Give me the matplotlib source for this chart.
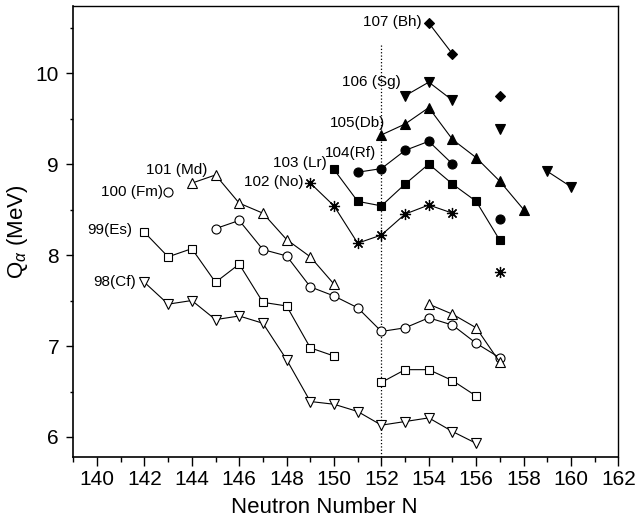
import numpy as np
import matplotlib
matplotlib.use("Agg")
import matplotlib.pyplot as plt
from matplotlib.ticker import MultipleLocator

plt.rcParams['font.family'] = ['Liberation Sans', 'DejaVu Sans']
plt.rcParams['mathtext.fontset'] = 'custom'
plt.rcParams['mathtext.rm'] = 'Liberation Sans'
plt.rcParams['mathtext.it'] = 'Liberation Sans:italic'

nan = np.nan

# Q_alpha (MeV) vs neutron number N; nan marks a gap in the line
cf_n = [142, 143, 144, 145, 146, 147, 148, 149, 150, 151, 152, 153, 154, 155, 156]
cf_q = [7.70, 7.46, 7.50, 7.29, 7.33, 7.25, 6.85, 6.39, 6.36, 6.28, 6.13, 6.17, 6.21, 6.06, 5.93]

es_n = [142, 143, 144, 145, 146, 147, 148, 149, 150, 151, 152, 153, 154, 155, 156]
es_q = [8.25, 7.98, 8.07, 7.70, 7.90, 7.48, 7.44, 6.98, 6.89, nan, 6.60, 6.74, 6.74, 6.62, 6.45]

fm_n = [143, 144, 145, 146, 147, 148, 149, 150, 151, 152, 153, 154, 155, 156, 157]
fm_q = [8.69, nan, 8.29, 8.38, 8.06, 7.99, 7.65, 7.55, 7.42, 7.16, 7.20, 7.31, 7.23, 7.03, 6.87]

md_n = [144, 145, 146, 147, 148, 149, 150, 151, 152, 153, 154, 155, 156, 157]
md_q = [8.79, 8.88, 8.57, 8.46, 8.17, 7.98, 7.68, nan, nan, nan, 7.46, 7.35, 7.20, 6.82]

no_n = [149, 150, 151, 152, 153, 154, 155, 156, 157]
no_q = [8.79, 8.54, 8.13, 8.22, 8.45, 8.55, 8.46, nan, 7.81]

lr_n = [150, 151, 152, 153, 154, 155, 156, 157]
lr_q = [8.94, 8.59, 8.54, 8.78, 9.00, 8.78, 8.59, 8.16]

rf_n = [151, 152, 153, 154, 155, 156, 157]
rf_q = [8.91, 8.95, 9.15, 9.25, 9.00, nan, 8.40]

db_n = [152, 153, 154, 155, 156, 157, 158]
db_q = [9.32, 9.44, 9.62, 9.27, 9.07, 8.81, 8.50]

sg_n = [153, 154, 155, 156, 157, 158, 159, 160]
sg_q = [9.75, 9.90, 9.70, nan, 9.38, nan, 8.92, 8.75]

bh_n = [154, 155, 156, 157]
bh_q = [10.55, 10.21, nan, 9.75]

labels = ["98(Cf)", "99(Es)", "100 (Fm)", "101 (Md)", "102 (No)",
          "103 (Lr)", "104(Rf)", "105(Db)", "106 (Sg)", "107 (Bh)"]
label_x = [141.65, 141.50, 142.80, 144.67, 148.72, 149.70, 151.76, 152.14, 152.80, 153.69]
label_y = [7.70, 8.27, 8.69, 8.93, 8.80, 9.01, 9.12, 9.45, 9.90, 10.56]

fig = plt.figure(figsize=(6.36, 5.25), dpi=100)
ax = fig.add_axes([0.1153, 0.1295, 0.857, 0.8596])

# dotted line at N = 152
ax.vlines(152, 5.78, 10.33, colors='black', linestyles=':', linewidth=0.9, zorder=1)

series = [
    (cf_n, cf_q, dict(marker='v', mfc='white', ms=7.5)),
    (es_n, es_q, dict(marker='s', mfc='white', ms=6)),
    (fm_n, fm_q, dict(marker='o', mfc='white', ms=6.5)),
    (md_n, md_q, dict(marker='^', mfc='white', ms=7.5)),
    (no_n, no_q, dict(marker=(8, 2, 0), mfc='black', ms=8, mew=0.9)),
    (lr_n, lr_q, dict(marker='s', mfc='black', ms=6)),
    (rf_n, rf_q, dict(marker='o', mfc='black', ms=6.5)),
    (db_n, db_q, dict(marker='^', mfc='black', ms=7.5)),
    (sg_n, sg_q, dict(marker='v', mfc='black', ms=7.5)),
    (bh_n, bh_q, dict(marker='D', mfc='black', ms=5.5)),
]
for n, q, style in series:
    ax.plot(n, q, color='black', linewidth=0.8, mec='black',
            mew=style.pop('mew', 0.8), zorder=3, **style)

for txt, x, y in zip(labels, label_x, label_y):
    ax.text(x, y, txt, ha='right', va='center', fontsize=11)

ax.set_xlim(139, 162)
ax.set_ylim(5.78, 10.74)
ax.xaxis.set_major_locator(MultipleLocator(2))
ax.xaxis.set_minor_locator(MultipleLocator(1))
ax.yaxis.set_major_locator(MultipleLocator(1))
ax.yaxis.set_minor_locator(MultipleLocator(0.5))
ax.tick_params(axis='x', which='major', direction='out', length=6.5, width=1, labelsize=15, pad=2.5)
ax.tick_params(axis='x', which='minor', direction='out', length=3.6, width=1)
ax.tick_params(axis='y', which='major', direction='out', length=5.3, width=1, labelsize=15, pad=5)
ax.tick_params(axis='y', which='minor', direction='out', length=2.5, width=1)
for side in ['top', 'right']:
    ax.spines[side].set_linewidth(1.0)
for side in ['left', 'bottom']:
    ax.spines[side].set_linewidth(1.2)

ax.set_xlabel("Neutron Number N", fontsize=16)
ax.xaxis.set_label_coords(0.46, -0.088)
ax.set_ylabel(r"Q$_\alpha$ (MeV)", fontsize=16)
ax.yaxis.set_label_coords(-0.08, 0.5)

fig.savefig("out.png", dpi=100)
